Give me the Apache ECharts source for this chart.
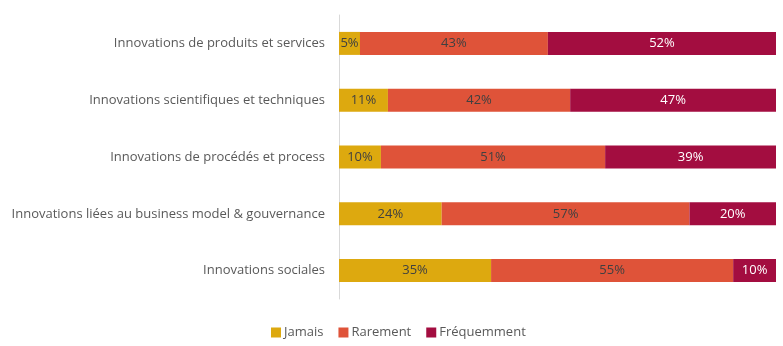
<!DOCTYPE html>
<html><head><meta charset="utf-8">
<script src="https://cdn.jsdelivr.net/npm/echarts@6/dist/echarts.min.js"></script>
<style>html,body{margin:0;padding:0;background:#fff}#c{width:783px;height:346px}</style>
</head><body><div id="c"></div>
<script>
const categories = [
  "Innovations de produits et services",
  "Innovations scientifiques et techniques",
  "Innovations de procédés et process",
  "Innovations liées au business model & gouvernance",
  "Innovations sociales"
];
const jamais = [4.8, 11.2, 9.6, 23.5, 34.8];
const rarement = [43.0, 41.7, 51.3, 56.7, 55.4];
const frequemment = [52.2, 47.1, 39.1, 19.8, 9.8];
const seriesNames = ["Jamais", "Rarement", "Fréquemment"];
const colors = ["#DDA90F", "#DF5339", "#A30D40"];
const labelColors = ["#404040", "#404040", "#ffffff"];
const font = "'Open Sans', sans-serif";

const chart = echarts.init(document.getElementById('c'), null, {renderer: 'canvas'});
const datasets = [jamais, rarement, frequemment];
chart.setOption({
  animation: false,
  grid: {left: 339, right: 7, top: 15, bottom: 47},
  xAxis: {type: 'value', min: 0, max: 100, show: false},
  yAxis: {
    type: 'category', data: categories, inverse: true,
    axisLine: {lineStyle: {color: '#d9d9d9', width: 1}},
    axisTick: {show: false},
    axisLabel: {color: '#595959', fontFamily: font, fontSize: 13, margin: 14}
  },
  legend: {
    bottom: 2, left: 266, itemWidth: 10, itemHeight: 10, itemGap: 15,
    icon: 'rect',
    textStyle: {color: '#595959', fontFamily: font, fontSize: 13, padding: [0, 0, 0, -2]},
    data: seriesNames
  },
  series: datasets.map((d, i) => ({
    name: seriesNames[i], type: 'bar', stack: 'total', barWidth: 23,
    data: d,
    itemStyle: {color: colors[i]},
    label: {
      show: true, position: 'inside', color: labelColors[i],
      fontFamily: font, fontSize: 13,
      formatter: p => Math.round(p.value) + '%'
    }
  }))
});
</script></body></html>
